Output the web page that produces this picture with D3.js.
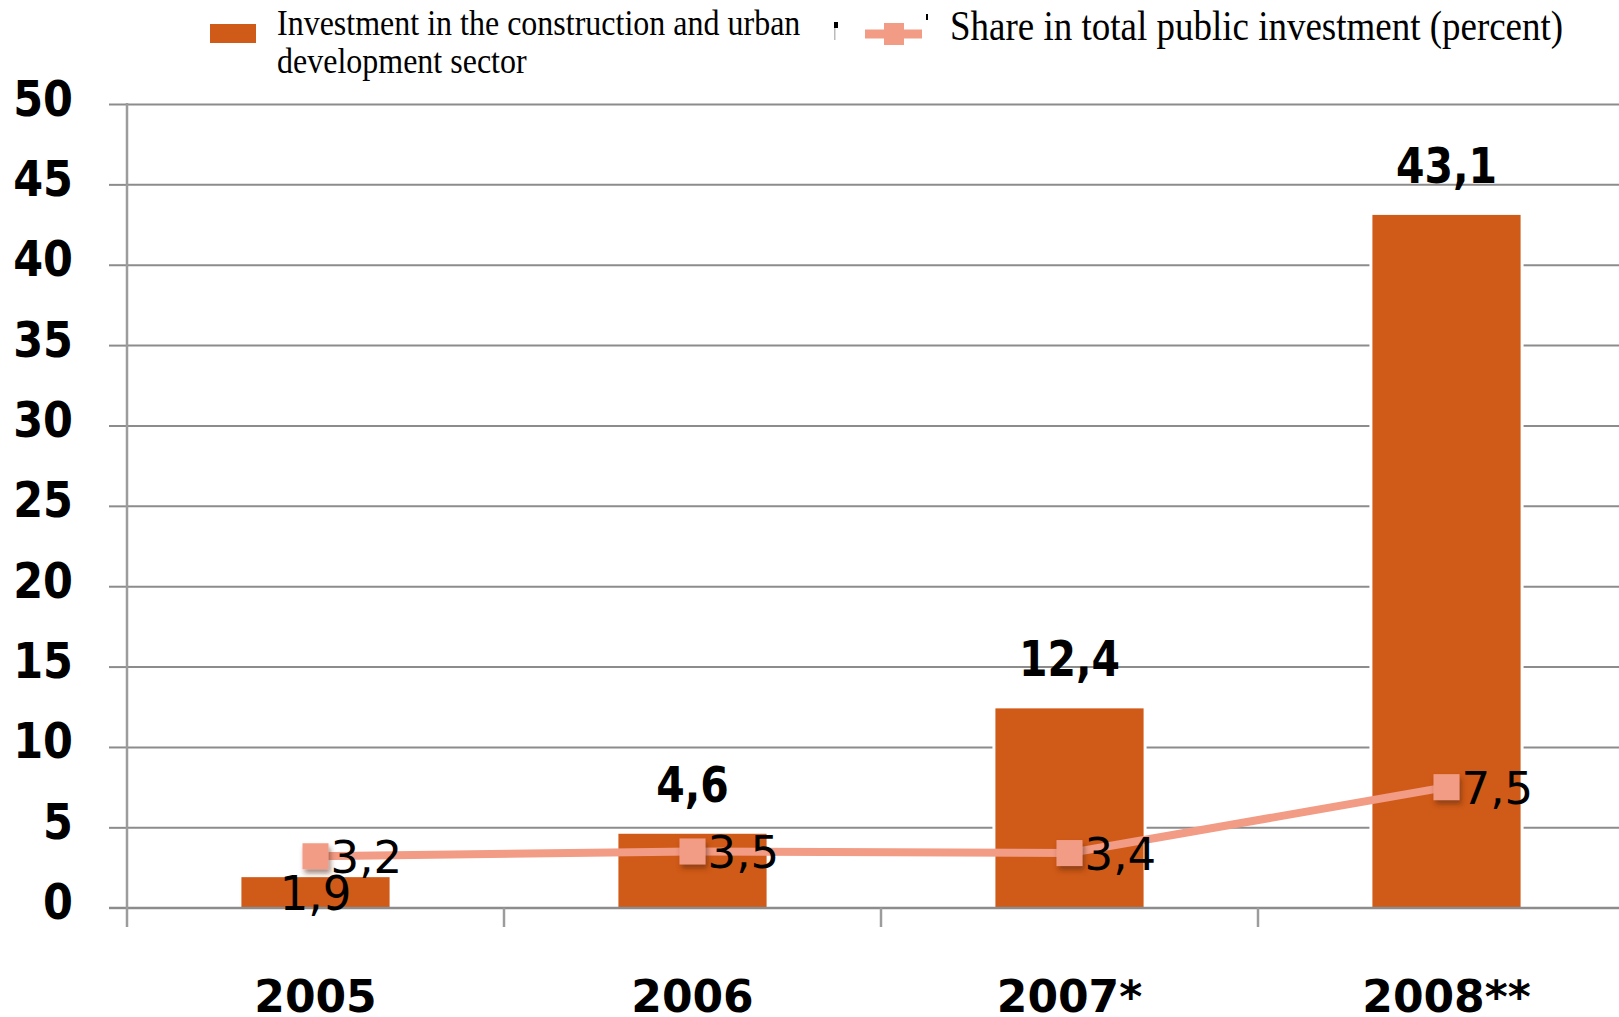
<!DOCTYPE html>
<html>
<head>
<meta charset="utf-8">
<script src="https://cdn.jsdelivr.net/npm/d3@7"></script>
<style>
  html, body { margin: 0; padding: 0; background: #ffffff; }
  svg { display: block; }
</style>
</head>
<body>
<script>
// ---- data ----
const categories = ["2005", "2006", "2007*", "2008**"];
const investment = [1.9, 4.6, 12.4, 43.1];
const share = [3.2, 3.5, 3.4, 7.5];
const yTicks = [0, 5, 10, 15, 20, 25, 30, 35, 40, 45, 50];
const legendBar = ["Investment in the construction and urban", "development sector"];
const legendLine = "Share in total public investment (percent)";

// ---- setup ----
const W = 1619, H = 1017;
const barColor = "#D05A17";
const lineColor = "#F29B85";
const gridColor = "#8C8C8C";
const sans = "'DejaVu Sans', Verdana, sans-serif";
const serif = "'Liberation Serif', 'Times New Roman', serif";
const fmt = d3.formatLocale({decimal: ",", thousands: ".", grouping: [3], currency: ["", ""]}).format(".1f");

const svg = d3.select("body").append("svg").attr("width", W).attr("height", H);

const defs = svg.append("defs");
const f = defs.append("filter").attr("id", "shadow").attr("x", "-50%").attr("y", "-50%").attr("width", "200%").attr("height", "200%");
f.append("feDropShadow").attr("dx", 2).attr("dy", 4).attr("stdDeviation", 2.5)
  .attr("flood-color", "#5a2a10").attr("flood-opacity", 0.55);

const x = d3.scaleBand().domain(categories).range([127, 1635]).paddingInner(0.607).paddingOuter(0.3035);
const y = d3.scaleLinear().domain([0, 50]).range([907.7, 104]);
const rows = categories.map((c, i) => ({c, inv: investment[i], sh: share[i]}));

// ---- gridlines ----
const grid = svg.append("g").attr("transform", "translate(127,0)")
  .call(d3.axisLeft(y).tickValues(yTicks).tickSize(-(W - 127)).tickFormat(""));
grid.select(".domain").remove();
grid.selectAll(".tick line").attr("stroke", gridColor).attr("stroke-width", 2);

// ---- y axis with labels ----
const yAxis = svg.append("g").attr("transform", "translate(127,0)")
  .call(d3.axisLeft(y).tickValues(yTicks).tickSize(18).tickPadding(0).tickFormat(d3.format("d")));
yAxis.select(".domain").remove();
yAxis.selectAll(".tick line").attr("stroke", gridColor).attr("stroke-width", 2);
yAxis.selectAll(".tick text")
  .attr("x", -54).attr("y", 9.4).attr("dy", 0)
  .attr("text-anchor", "end")
  .attr("transform", "scale(1,1.17)")
  .style("font-family", sans).style("font-weight", "bold").style("font-size", "43px").attr("fill", "#000");

// ---- bars (white halo behind, then fill) ----
svg.append("g").selectAll("rect").data(rows).join("rect")
  .attr("x", d => x(d.c) - 3)
  .attr("y", d => y(d.inv) - 3)
  .attr("width", x.bandwidth() + 6)
  .attr("height", d => y(0) - y(d.inv) + 3)
  .attr("fill", "#fff");
svg.append("g").selectAll("rect").data(rows).join("rect")
  .attr("x", d => x(d.c))
  .attr("y", d => y(d.inv))
  .attr("width", x.bandwidth())
  .attr("height", d => y(0) - y(d.inv))
  .attr("fill", barColor);

// ---- baseline & vertical axis ----
svg.append("line").attr("x1", 109).attr("x2", W).attr("y1", y(0)).attr("y2", y(0))
  .attr("stroke", gridColor).attr("stroke-width", 2);
svg.append("line").attr("x1", 127).attr("x2", 127).attr("y1", 103).attr("y2", 927)
  .attr("stroke", "#9C9C9C").attr("stroke-width", 2.5);

// ---- x axis ----
const half = (x.step() - x.bandwidth()) / 2;
svg.append("g").selectAll("line").data(categories.slice(1)).join("line")
  .attr("x1", d => x(d) - half).attr("x2", d => x(d) - half)
  .attr("y1", y(0)).attr("y2", 927)
  .attr("stroke", "#9C9C9C").attr("stroke-width", 2.5);

const xAxis = svg.append("g").attr("transform", `translate(0,${y(0)})`)
  .call(d3.axisBottom(x).tickSize(0).tickPadding(0));
xAxis.select(".domain").remove();
xAxis.selectAll(".tick text")
  .attr("y", 104).attr("dy", 0)
  .style("font-family", sans).style("font-weight", "bold").style("font-size", "44px").attr("fill", "#000");

// ---- bar value labels ----
svg.append("g").selectAll("text").data(rows).join("text")
  .attr("transform", d => {
    const cx = x(d.c) + x.bandwidth() / 2;
    const by = d.inv < 3 ? y(d.inv) + 33 : y(d.inv) - 32;
    return `translate(${cx},${by}) scale(1,${d.inv < 3 ? 1.05 : 1.22})`;
  })
  .attr("text-anchor", "middle")
  .style("font-family", sans)
  .style("font-weight", d => d.inv < 3 ? "normal" : "bold")
  .style("font-size", d => d.inv < 3 ? "45px" : "41px")
  .attr("fill", "#000")
  .text(d => fmt(d.inv));

// ---- share line ----
const line = d3.line().x(d => x(d.c) + x.bandwidth() / 2).y(d => y(d.sh));
svg.append("path").datum(rows).attr("d", line)
  .attr("fill", "none").attr("stroke", lineColor).attr("stroke-width", 8).attr("stroke-linejoin", "round");

const ms = 26;
svg.append("g").selectAll("rect").data(rows).join("rect")
  .attr("x", d => x(d.c) + x.bandwidth() / 2 - ms / 2)
  .attr("y", d => y(d.sh) - ms / 2)
  .attr("width", ms).attr("height", ms)
  .attr("fill", lineColor).attr("filter", "url(#shadow)");

svg.append("g").selectAll("text").data(rows).join("text")
  .attr("x", d => x(d.c) + x.bandwidth() / 2 + 15)
  .attr("y", d => y(d.sh) + 17)
  .style("font-family", sans).style("font-size", "45px").attr("fill", "#000")
  .text(d => fmt(d.sh));

// ---- legend ----
const lg = svg.append("g");
lg.append("rect").attr("x", 210).attr("y", 24).attr("width", 46).attr("height", 19).attr("fill", barColor);
lg.selectAll("text.lb").data(legendBar).join("text").attr("class", "lb")
  .attr("transform", (d, i) => `translate(277,${35 + i * 38}) scale(1,1.12)`)
  .style("font-family", serif).style("font-size", "32px").attr("fill", "#000")
  .text(d => d);

lg.append("rect").attr("x", 834).attr("y", 22).attr("width", 4).attr("height", 6).attr("fill", "#000");
lg.append("rect").attr("x", 834).attr("y", 28).attr("width", 1.5).attr("height", 12).attr("fill", "#bbb");
lg.append("rect").attr("x", 926).attr("y", 14).attr("width", 2).attr("height", 6).attr("fill", "#000");
lg.append("line").attr("x1", 865).attr("x2", 922).attr("y1", 34).attr("y2", 34)
  .attr("stroke", lineColor).attr("stroke-width", 9);
lg.append("rect").attr("x", 884).attr("y", 23).attr("width", 20).attr("height", 22).attr("fill", lineColor);
lg.append("text")
  .attr("transform", "translate(950,40) scale(1,1.12)")
  .style("font-family", serif).style("font-size", "37px").attr("fill", "#000")
  .text(legendLine);
</script>
</body>
</html>
